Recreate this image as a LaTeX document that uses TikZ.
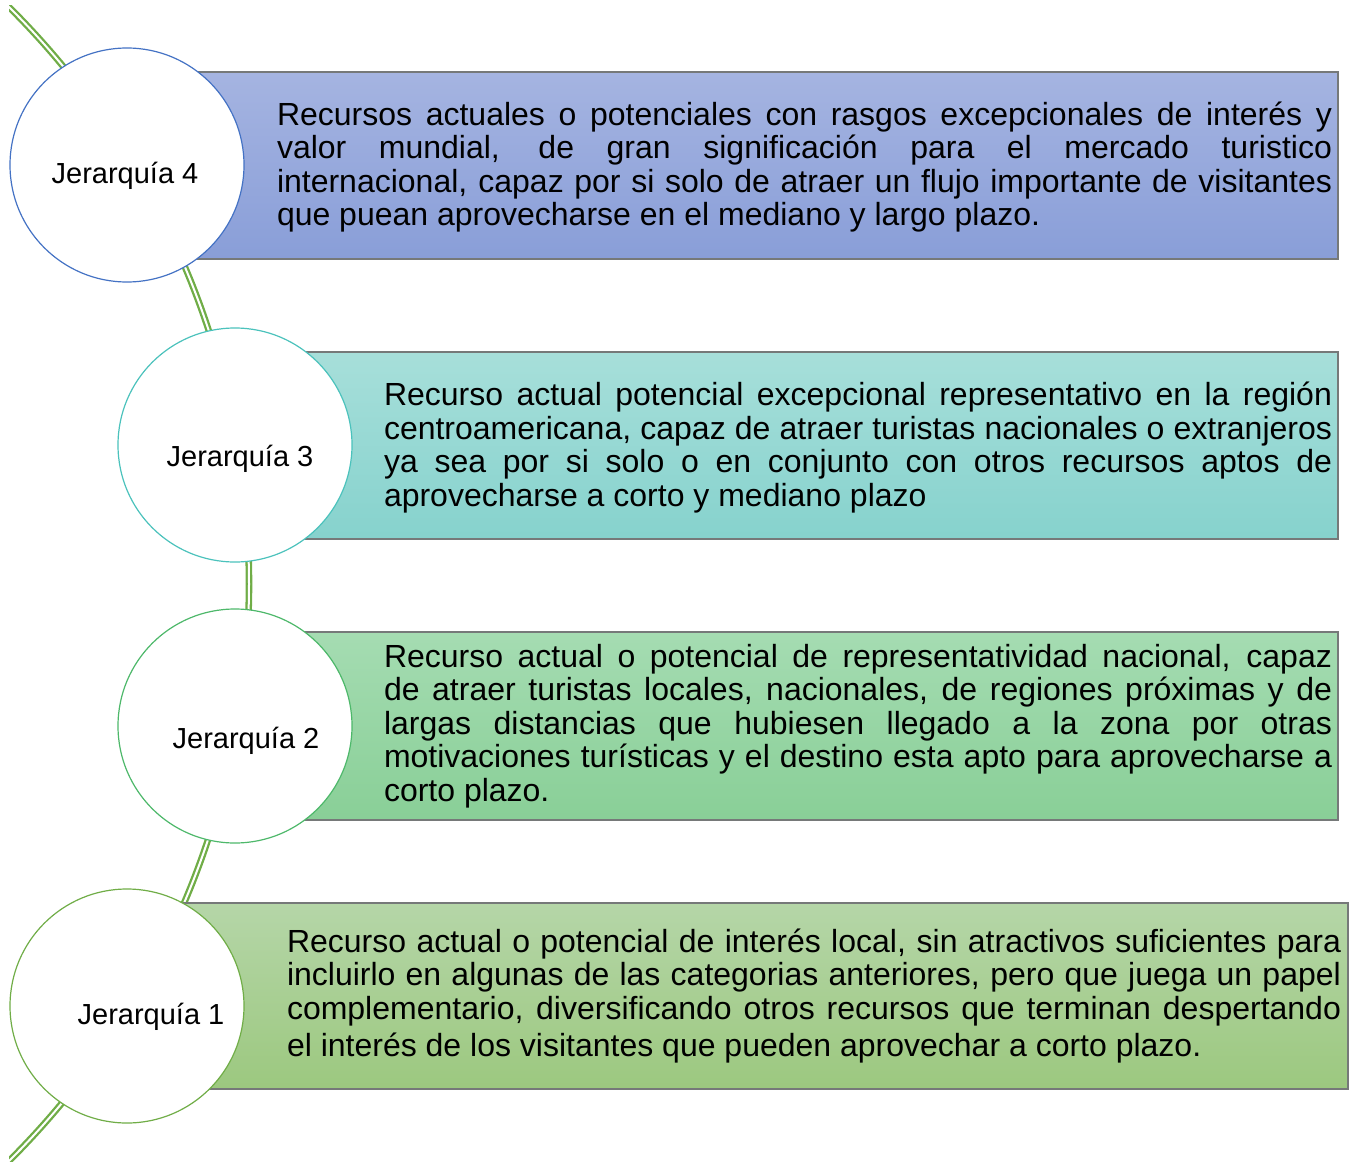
\documentclass[tikz,border=0pt]{standalone}
\usepackage{fontspec}
\setmainfont{Liberation Sans}
\definecolor{arcgreen}{HTML}{70AD47}
\definecolor{edgegray}{HTML}{767979}
\definecolor{ringfour}{HTML}{4472C4}
\definecolor{ringthree}{HTML}{4BC2BC}
\definecolor{ringtwo}{HTML}{4DB86A}
\definecolor{ringone}{HTML}{70AD47}
\definecolor{topfour}{HTML}{A5B4E1}
\definecolor{botfour}{HTML}{899ED8}
\definecolor{topthree}{HTML}{A7DFDA}
\definecolor{botthree}{HTML}{86D2CD}
\definecolor{toptwo}{HTML}{A5DCB2}
\definecolor{bottwo}{HTML}{89CF97}
\definecolor{topone}{HTML}{B5D6A8}
\definecolor{botone}{HTML}{9CC87F}
\begin{document}
\begin{tikzpicture}[x=1pt,y=-1pt,
  link/.style={draw=arcgreen, line width=2.3pt, double=white, double distance=2pt},
  bar/.style={draw=edgegray, line width=1.4pt},
  ring/.style={circle, fill=white, line width=1.2pt, minimum size=234pt, inner sep=0pt},
  lbl/.style={font=\fontsize{29}{33}\selectfont},
  txt/.style={align=justify, inner sep=0pt, font=\fontsize{32}{33.5}\selectfont,
    execute at begin node={\hyphenpenalty=10000 \exhyphenpenalty=10000}}]
\useasboundingbox (0,0) rectangle (1356,1161);
% arc behind the circles
\begin{scope}
\clip (9,6) rectangle (1356,1161);
\draw[link] (-564.6,584) circle[radius=813.6];
\end{scope}
% bars
\shade[top color=topfour, bottom color=botfour] (127,72) rectangle (1338,259);
\draw[bar] (127,72) rectangle (1338,259);
\shade[top color=topthree, bottom color=botthree] (235,352) rectangle (1338,539);
\draw[bar] (235,352) rectangle (1338,539);
\shade[top color=toptwo, bottom color=bottwo] (235,632) rectangle (1338,820);
\draw[bar] (235,632) rectangle (1338,820);
\shade[top color=topone, bottom color=botone] (127,903) rectangle (1348,1089);
\draw[bar] (127,903) rectangle (1348,1089);
% circles
\node[ring, draw=ringfour] (c4) at (127,165) {};
\node[ring, draw=ringthree] (c3) at (235,445) {};
\node[ring, draw=ringtwo] (c2) at (235,726) {};
\node[ring, draw=ringone] (c1) at (127,1006) {};
\node[lbl] (l4) at (125,175.5) {Jerarquía 4};
\node[lbl] (l3) at (240,459) {Jerarquía 3};
\node[lbl] (l2) at (246,740.5) {Jerarquía 2};
\node[lbl] (l1) at (151,1016.5) {Jerarquía 1};
% texts
\node[txt, text width=1055pt] (t4) at (804.5,167) {Recursos actuales o potenciales con rasgos excepcionales de interés y\linebreak
valor mundial, de gran significación para el mercado turistico\linebreak
internacional, capaz por si solo de atraer un flujo importante de visitantes\linebreak
que puean aprovecharse en el mediano y largo plazo.};
\node[txt, text width=948pt] (t3) at (858,447.5) {Recurso actual potencial excepcional representativo en la región\linebreak
centroamericana, capaz de atraer turistas nacionales o extranjeros\linebreak
ya sea por si solo o en conjunto con otros recursos aptos de\linebreak
aprovecharse a corto y mediano plazo};
\node[txt, text width=948pt] (t2) at (858,726) {Recurso actual o potencial de representatividad nacional, capaz\linebreak
de atraer turistas locales, nacionales, de regiones próximas y de\linebreak
largas distancias que hubiesen llegado a la zona por otras\linebreak
motivaciones turísticas y el destino esta apto para aprovecharse a\linebreak
corto plazo.};
\node[txt, text width=1054pt] (t1) at (814,996) {Recurso actual o potencial de interés local, sin atractivos suficientes para\linebreak
incluirlo en algunas de las categorias anteriores, pero que juega un papel\linebreak
complementario, diversificando otros recursos que terminan despertando\vadjust{\vskip 3.5pt}\linebreak
el interés de los visitantes que pueden aprovechar a corto plazo.};
\end{tikzpicture}
\end{document}
